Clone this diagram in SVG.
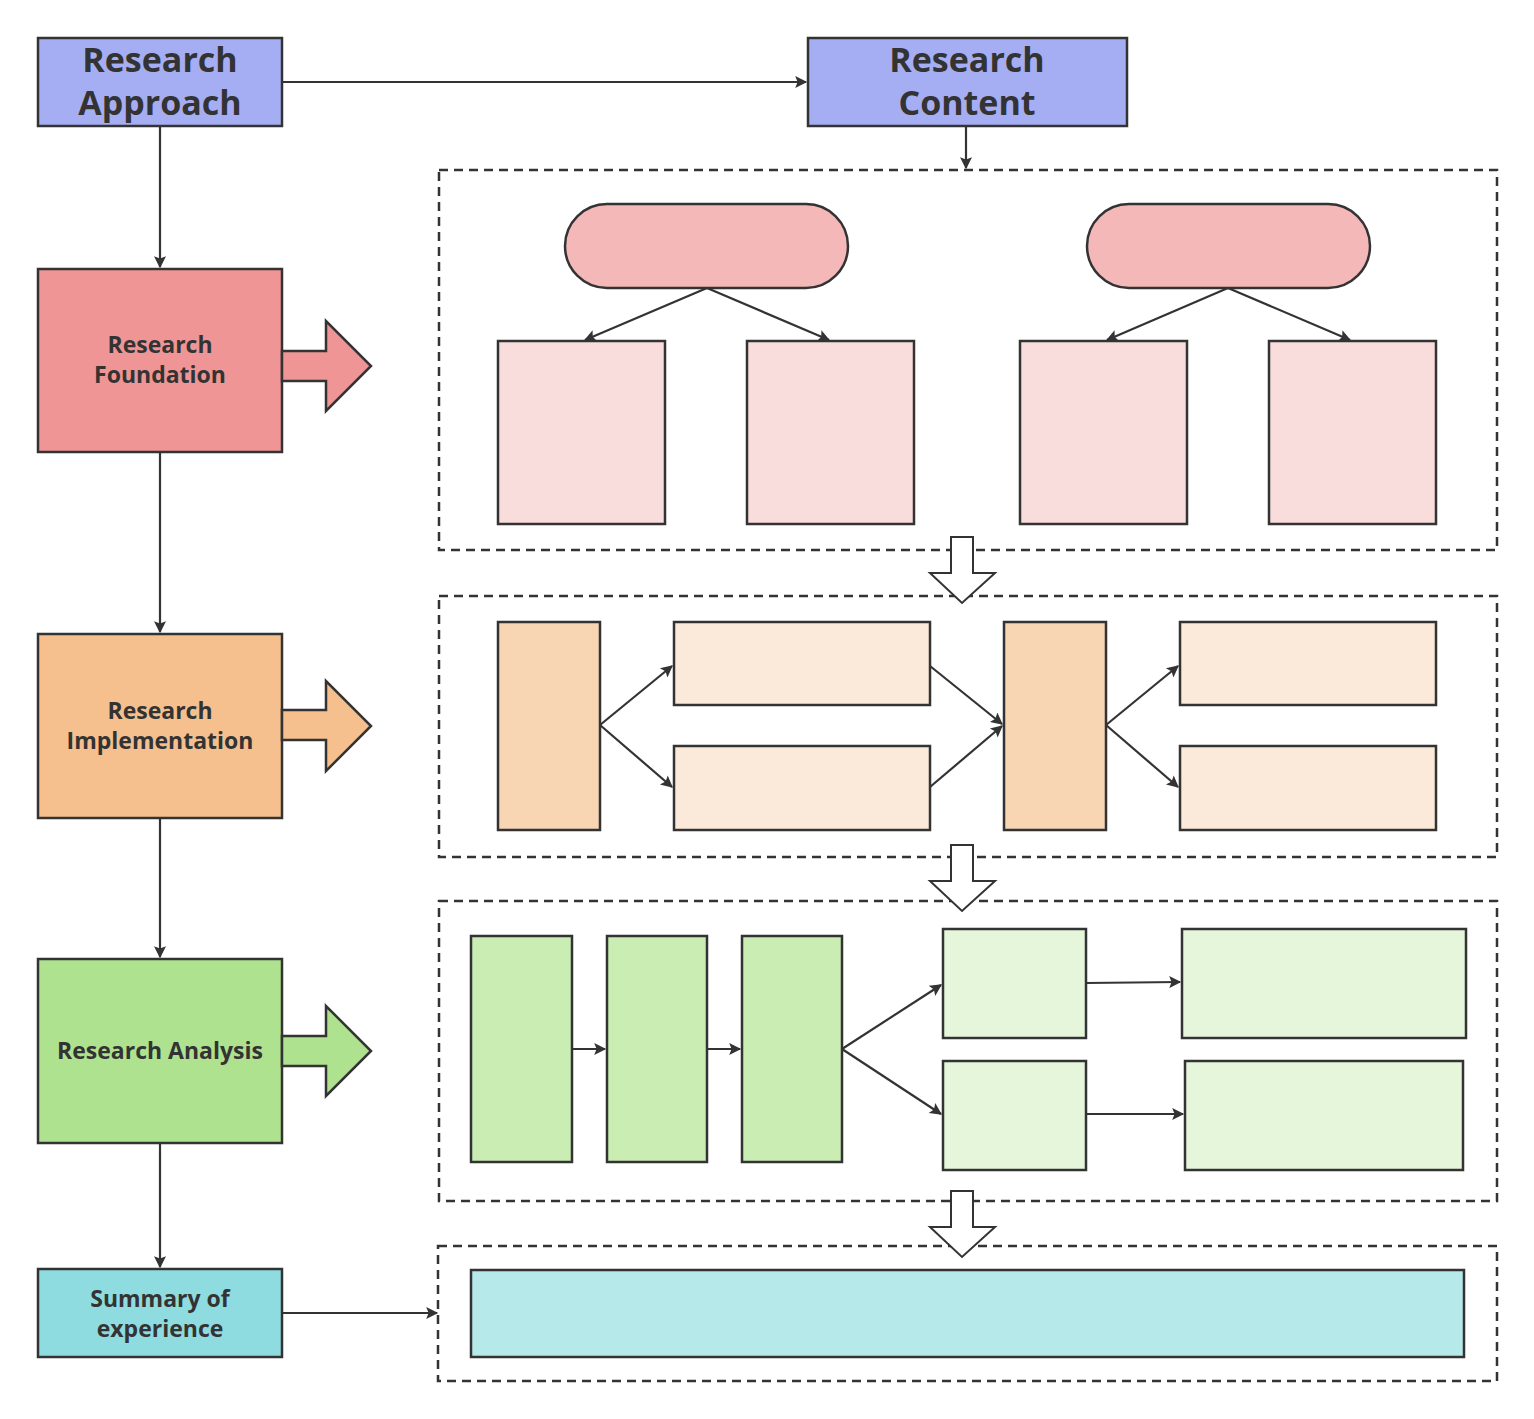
<svg xmlns="http://www.w3.org/2000/svg" width="1534" height="1419" viewBox="0 0 1534 1419">
<style>
.s{stroke:#333;stroke-width:2.5}
.d{fill:none;stroke:#333;stroke-width:2.5;stroke-dasharray:9 6}
.c{stroke:#333;stroke-width:2.2;fill:none}
.t{font-family:"Open Sans","Liberation Sans",sans-serif;font-weight:bold;fill:#333;text-anchor:middle}
.h{font-size:34px}.m{font-size:23px}
.ho{fill:#fff;stroke:#333;stroke-width:2}
</style>
<defs><marker id="a" viewBox="0 0 10 10" refX="9" refY="5" markerWidth="14" markerHeight="12" orient="auto" markerUnits="userSpaceOnUse"><path d="M0,0L10,5L0,10L2,5z" fill="#333"/></marker></defs>
<rect width="1534" height="1419" fill="#fff"/>
<g id="connectors" class="c" marker-end="url(#a)">
<path d="M282,82H806"/><path d="M966,126V168"/>
<path d="M160,126V267"/><path d="M160,452V632"/><path d="M160,818V957"/><path d="M160,1143V1267"/>
<path d="M282,1313H437"/>
<path d="M707,288L585,340"/><path d="M707,288L829,340"/><path d="M1228,288L1107,340"/><path d="M1228,288L1350,340"/>
<path d="M600,725L672,666"/><path d="M600,725L672,787"/><path d="M930,666L1002,724"/><path d="M930,787L1002,726"/><path d="M1106,725L1178,666"/><path d="M1106,725L1178,787"/>
<path d="M572,1049H605"/><path d="M707,1049H740"/><path d="M842,1049L941,985"/><path d="M842,1049L941,1114"/><path d="M1086,983L1180,982"/><path d="M1086,1114H1183"/>
</g>
<g id="containers">
<rect class="d" x="439" y="170" width="1058" height="380"/>
<rect class="d" x="439" y="596" width="1058" height="261"/>
<rect class="d" x="439" y="901" width="1058" height="300"/>
<rect class="d" x="438" y="1246" width="1059" height="135"/>
<path class="ho" d="M951,537H973V573H995L962,603L930,573H951Z"/>
<path class="ho" d="M951,845H973V881H995L962,911L930,881H951Z"/>
<path class="ho" d="M951,1191H973V1227H995L962,1257L930,1227H951Z"/>
</g>
<g id="approach"><rect class="s" x="38" y="38" width="244" height="88" fill="#a6aef3"/><text class="t h" x="160" y="72">Research</text><text class="t h" x="160" y="115">Approach</text></g>
<g id="content"><rect class="s" x="808" y="38" width="319" height="88" fill="#a6aef3"/><text class="t h" x="967" y="72">Research</text><text class="t h" x="967" y="115">Content</text></g>
<g id="foundation"><rect class="s" x="38" y="269" width="244" height="183" fill="#f09595"/><text class="t m" x="160" y="353">Research</text><text class="t m" x="160" y="383">Foundation</text>
<path class="s" fill="#f09595" d="M282,351H326V321L371,366L326,411V381H282Z"/></g>
<g id="implementation"><rect class="s" x="38" y="634" width="244" height="184" fill="#f5c08e"/><text class="t m" x="160" y="719">Research</text><text class="t m" x="160" y="749">Implementation</text>
<path class="s" fill="#f5c08e" d="M282,710H326V681L371,726L326,771V740H282Z"/></g>
<g id="analysis"><rect class="s" x="38" y="959" width="244" height="184" fill="#aee28f"/><text class="t m" x="160" y="1059">Research Analysis</text>
<path class="s" fill="#aee28f" d="M282,1036H326V1006L371,1051L326,1096V1066H282Z"/></g>
<g id="summary"><rect class="s" x="38" y="1269" width="244" height="88" fill="#8edcdf"/><text class="t m" x="160" y="1307">Summary of</text><text class="t m" x="160" y="1337">experience</text></g>
<g id="foundation-items">
<rect class="s" x="565" y="204" width="283" height="84" rx="42" fill="#f4b8b8"/>
<rect class="s" x="1087" y="204" width="283" height="84" rx="42" fill="#f4b8b8"/>
<rect class="s" x="498" y="341" width="167" height="183" fill="#f9dcdc"/>
<rect class="s" x="747" y="341" width="167" height="183" fill="#f9dcdc"/>
<rect class="s" x="1020" y="341" width="167" height="183" fill="#f9dcdc"/>
<rect class="s" x="1269" y="341" width="167" height="183" fill="#f9dcdc"/>
</g>
<g id="implementation-items">
<rect class="s" x="498" y="622" width="102" height="208" fill="#f8d5b3"/>
<rect class="s" x="674" y="622" width="256" height="83" fill="#fbe9da"/>
<rect class="s" x="674" y="746" width="256" height="84" fill="#fbe9da"/>
<rect class="s" x="1004" y="622" width="102" height="208" fill="#f8d5b3"/>
<rect class="s" x="1180" y="622" width="256" height="83" fill="#fbe9da"/>
<rect class="s" x="1180" y="746" width="256" height="84" fill="#fbe9da"/>
</g>
<g id="analysis-items">
<rect class="s" x="471" y="936" width="101" height="226" fill="#c9edb3"/>
<rect class="s" x="607" y="936" width="100" height="226" fill="#c9edb3"/>
<rect class="s" x="742" y="936" width="100" height="226" fill="#c9edb3"/>
<rect class="s" x="943" y="929" width="143" height="109" fill="#e5f6db"/>
<rect class="s" x="1182" y="929" width="284" height="109" fill="#e5f6db"/>
<rect class="s" x="943" y="1061" width="143" height="109" fill="#e5f6db"/>
<rect class="s" x="1185" y="1061" width="278" height="109" fill="#e5f6db"/>
</g>
<g id="summary-item"><rect class="s" x="471" y="1270" width="993" height="87" fill="#b5e9ea"/></g>
</svg>
